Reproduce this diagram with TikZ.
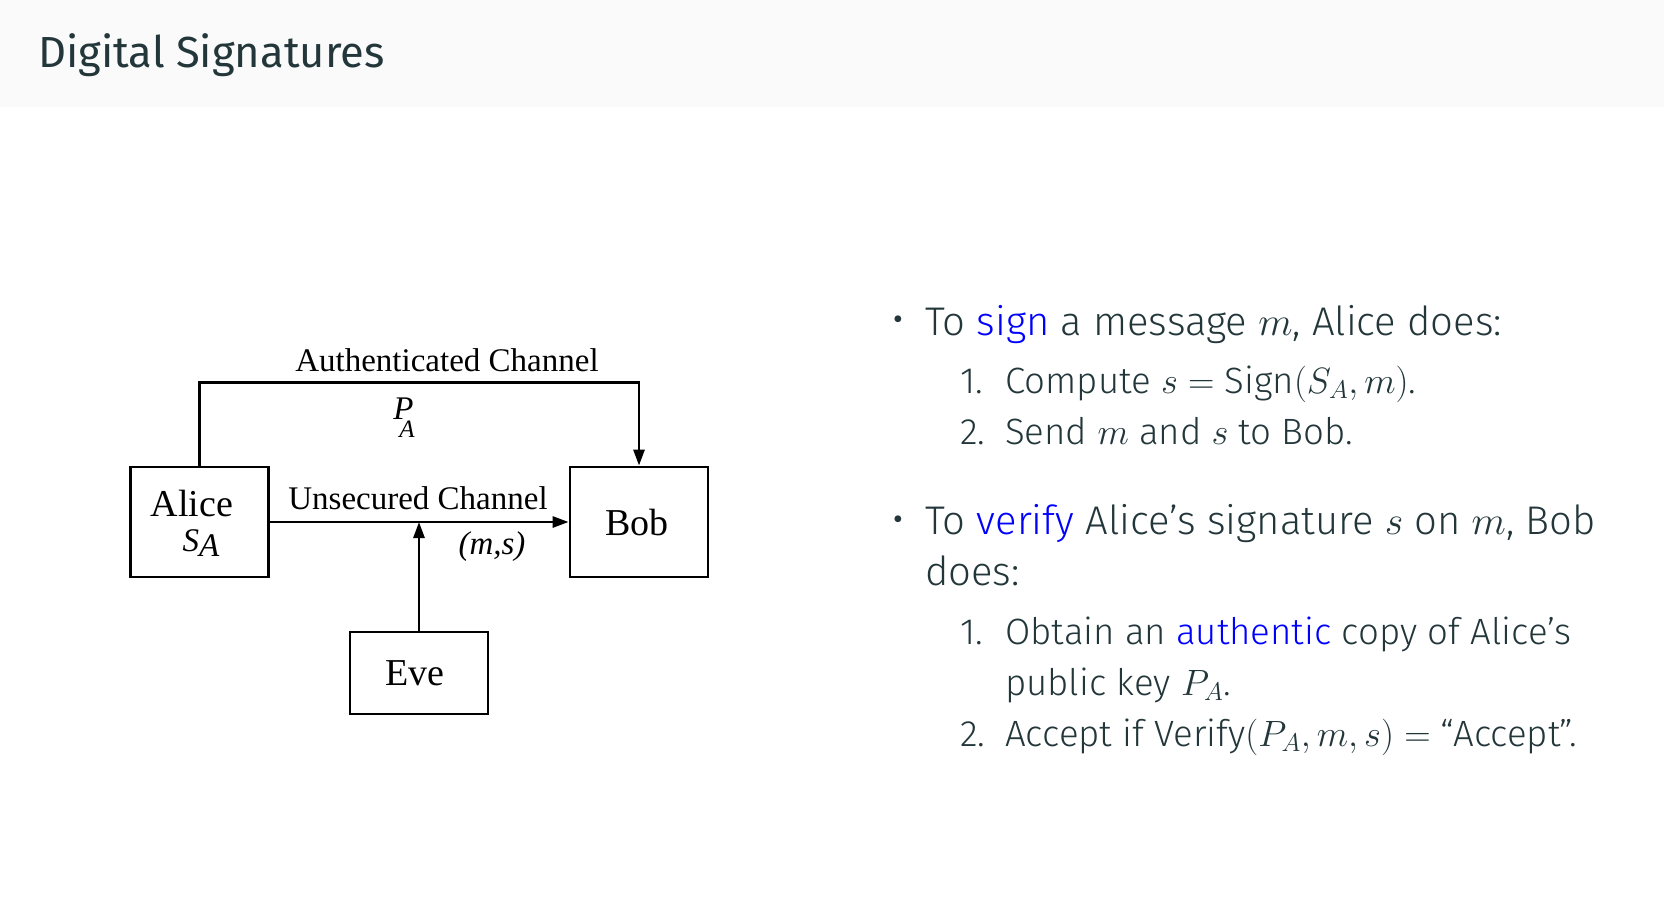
\RequirePackage{fix-cm}
\documentclass[tikz,border=0pt]{standalone}
\usepackage[no-math]{fontspec}
\IfFontExistsTF{Fira Sans Light}{\setmainfont{Fira Sans Light}}{\setmainfont{Fira Sans}}
\newfontfamily\titlefont{Fira Sans}
\newfontfamily\diagfont{Liberation Serif}
\usetikzlibrary{arrows.meta,positioning}

\definecolor{slidefg}{HTML}{23373B}
\definecolor{slidebg}{HTML}{FAFAFA}
\definecolor{linkblue}{RGB}{0,0,255}

\begin{document}
\begin{tikzpicture}[x=1pt,y=-1pt,
	box/.style={draw,line width=2.8pt,minimum width=138pt,inner sep=0pt,font=\diagfont\fontsize{38}{44}\selectfont},
	chan/.style={line width=2.8pt,-{Triangle[length=16pt,width=11pt]}},
	lbl/.style={font=\diagfont\fontsize{33}{39}\selectfont,inner sep=0pt,anchor=base},
	txt/.style={text=slidefg,font=\fontsize{40}{48}\selectfont,inner sep=0pt,anchor=base west},
	subtxt/.style={txt,font=\fontsize{36.6}{44}\selectfont},
	dot/.style={text=slidefg,font=\titlefont\fontsize{30}{30}\selectfont,inner sep=0pt,anchor=base}]
	\useasboundingbox (0,0) rectangle (1664,902);
	\fill[slidebg] (0,0) rectangle (1664,107);
	\node[txt,font=\titlefont\fontsize{43.5}{52}\selectfont] (title) at (38,67) {Digital Signatures};
	% the three parties
	\node[box,minimum height=110pt] (alice) at (199.5,522) {};
	\node[lbl,font=\diagfont\fontsize{38}{44}\selectfont] (alicename) at (192,516) {Alice};
	\node[lbl] (alicekey) at (201,551) {\itshape S\raisebox{-5pt}{A}};
	\node[box,minimum height=110pt] (bob) at (639,522) {\kern-4pt Bob};
	\node[box,minimum height=82pt] (eve) at (419,673) {\kern-8pt Eve};
	% channels
	\draw[chan] (alice.north) -- ++(0,-83) -| (bob.north);
	\draw[chan] (alice.east) -- (bob.west);
	\draw[chan] (eve.north) -- (eve.north |- alice.east);
	\node[lbl] (authlbl) at (447,371) {Authenticated Channel};
	\node[lbl] (pubkey) at (404,419) {\itshape P\kern-14pt\raisebox{-18pt}{\fontsize{25}{28}\selectfont A}};
	\node[lbl] (unseclbl) at (418,509) {Unsecured Channel};
	\node[lbl] (msglbl) at (492,554) {\itshape (m,s)};
	% text on the right
	\node[dot] (dot1) at (898,329) {\textbullet};
	\node[txt] (signhead) at (925,335) {To \textcolor{linkblue}{sign} a message $m$, Alice does:};
	\node[subtxt] (signnum1) at (960,393) {1.};
	\node[subtxt] (signstep1) at (1005,393) {Compute $s=\mbox{Sign}(S_A,m)$.};
	\node[subtxt] (signnum2) at (960,444) {2.};
	\node[subtxt] (signstep2) at (1005,444) {Send $m$ and $s$ to Bob.};
	\node[dot] (dot2) at (898,529) {\textbullet};
	\node[txt] (verhead) at (925,534) {To \textcolor{linkblue}{verify} Alice's signature $s$ on $m$, Bob};
	\node[txt] (verhead2) at (925,585) {does:};
	\node[subtxt] (vernum1) at (960,644) {1.};
	\node[subtxt] (verstep1) at (1005,644) {Obtain an \textcolor{linkblue}{authentic} copy of Alice's};
	\node[subtxt] (verstep1b) at (1005,695) {public key $P_A$.};
	\node[subtxt] (vernum2) at (960,746) {2.};
	\node[subtxt] (verstep2) at (1005,746) {Accept if Verify$(P_A,m,s)=$ ``Accept''.};
\end{tikzpicture}
\end{document}
